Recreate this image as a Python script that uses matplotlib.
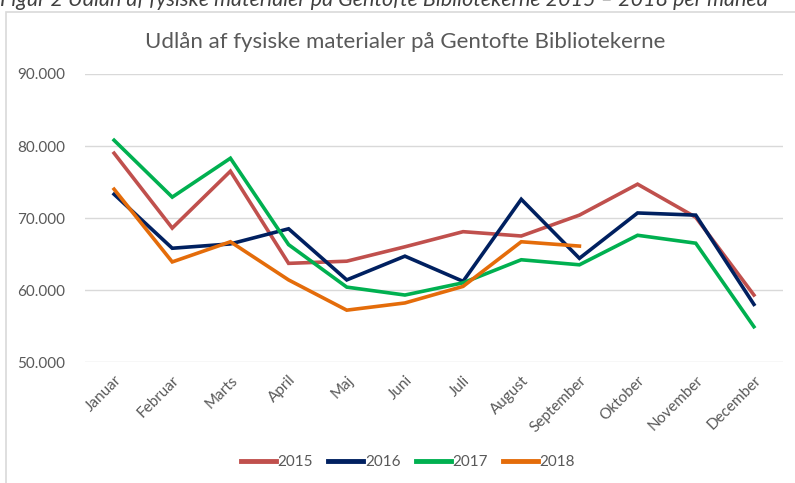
import matplotlib
matplotlib.use('Agg')
import matplotlib.pyplot as plt
from matplotlib.patches import Rectangle
from matplotlib.ticker import FuncFormatter

plt.rcParams['font.family'] = ['Lato', 'DejaVu Sans']

# data
maaneder = ['Januar', 'Februar', 'Marts', 'April', 'Maj', 'Juni', 'Juli',
            'August', 'September', 'Oktober', 'November', 'December']
udlaan_2015 = [79000, 68600, 76500, 63700, 64000, 66000, 68100, 67500,
               70400, 74700, 70100, 59300]
udlaan_2016 = [73300, 65800, 66400, 68500, 61400, 64700, 61200, 72600,
               64400, 70700, 70400, 58000]
udlaan_2017 = [80800, 72900, 78300, 66300, 60400, 59300, 61000, 64200,
               63500, 67600, 66500, 54900]
udlaan_2018 = [74000, 63900, 66700, 61400, 57200, 58200, 60500, 66700,
               66100]

serier = [('2015', udlaan_2015, '#C0504D'),
          ('2016', udlaan_2016, '#002060'),
          ('2017', udlaan_2017, '#00B050'),
          ('2018', udlaan_2018, '#E46C0A')]

grey = '#595959'

fig = plt.figure(figsize=(7.95, 4.83), dpi=100)

# chart frame (partly outside the picture)
fig.patches.append(Rectangle((6 / 795, -0.1), 1.0, 1 - 12 / 483 + 0.1,
                             transform=fig.transFigure, fill=False,
                             edgecolor='#D9D9D9', linewidth=1.2))

# caption, cut at the top like in the document
fig.text(0.0, 1 - 6 / 483, 'Figur 2 Udlån af fysiske materialer på Gentofte Bibliotekerne 2015 – 2018 per måned',
         fontsize=15.5, style='italic', color='#404040', va='baseline', ha='left')

ax = fig.add_axes([85 / 795, 1 - 362 / 483, 698 / 795, 288 / 483])

x = list(range(len(maaneder)))
for navn, vals, farve in serier:
    ax.plot(x[:len(vals)], vals, color=farve, linewidth=2.6, label=navn,
            solid_joinstyle='miter')

ax.set_xlim(-0.5, len(maaneder) - 0.5)
ax.set_ylim(50000, 90000)
ax.set_yticks([50000, 60000, 70000, 80000, 90000])
ax.yaxis.set_major_formatter(FuncFormatter(lambda v, p: f'{int(v):,}'.replace(',', '.')))
ax.set_xticks(x)
ax.set_xticklabels(maaneder, rotation=45, ha='right', rotation_mode='anchor')
ax.tick_params(axis='both', length=0, colors=grey, labelsize=11)
ax.tick_params(axis='x', pad=8)
ax.tick_params(axis='y', pad=14)
ax.grid(axis='y', color='#D9D9D9', linewidth=1)
ax.set_axisbelow(True)
for s in ax.spines.values():
    s.set_visible(False)

fig.text(405 / 795, 1 - 42 / 483, 'Udlån af fysiske materialer på Gentofte Bibliotekerne',
         fontsize=16, color=grey, ha='center', va='center')

leg = fig.legend(loc='center', bbox_to_anchor=(408 / 795, 1 - 462 / 483), ncol=4,
                 frameon=False, fontsize=11, handlelength=2.3, handletextpad=0.1,
                 columnspacing=1.0)
for t in leg.get_texts():
    t.set_color(grey)
for h in leg.get_lines():
    h.set_linewidth(3.5)

fig.savefig('out.png', dpi=100)
